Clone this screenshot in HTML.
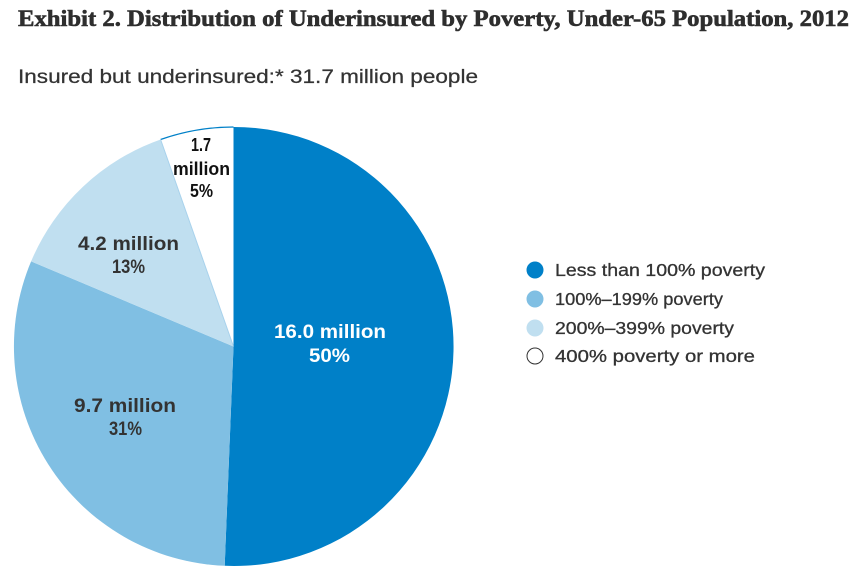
<!DOCTYPE html>
<html><head><meta charset="utf-8"><style>
html,body{margin:0;padding:0;background:#fff;}
svg{display:block;}
</style></head><body>
<svg width="863" height="581" viewBox="0 0 863 581" xmlns="http://www.w3.org/2000/svg">
<rect width="863" height="581" fill="#fff"/>
<text x="18" y="26" font-family="Liberation Serif, serif" font-weight="bold" font-size="23" fill="#2e2e2e" stroke="#2e2e2e" stroke-width="0.6" textLength="831" lengthAdjust="spacingAndGlyphs">Exhibit 2. Distribution of Underinsured by Poverty, Under-65 Population, 2012</text>
<text x="18" y="83" font-family="Liberation Sans, sans-serif" font-size="19" fill="#333" stroke="#333" stroke-width="0.25" textLength="460" lengthAdjust="spacingAndGlyphs">Insured but underinsured:* 31.7 million people</text>

<path d="M233.5,346.5 L233.5,127 A219.5,219.5 0 1 1 224.7,565.8 Z" fill="#0080c8"/>
<path d="M233.5,346.5 L224.7,565.8 A219.5,219.5 0 0 1 31.1,261.4 Z" fill="#80bfe3"/>
<path d="M233.5,346.5 L31.1,261.4 A219.5,219.5 0 0 1 160.6,139.5 Z" fill="#c0dff0"/>
<path d="M233.5,346.5 L160.6,139.5 A219.5,219.5 0 0 1 233.5,127 Z" fill="#fff"/>
<path d="M160.6,139.5 A219.5,219.5 0 0 1 233.5,127" fill="none" stroke="#0080c8" stroke-width="1.2"/>
<line x1="233.5" y1="346.5" x2="160.6" y2="139.5" stroke="#a8d2ec" stroke-width="1"/>

<g font-family="Liberation Sans, sans-serif" font-weight="bold" font-size="19">
<text x="274" y="338" fill="#fff" textLength="112" lengthAdjust="spacingAndGlyphs">16.0 million</text>
<text x="309" y="362" fill="#fff" textLength="41" lengthAdjust="spacingAndGlyphs">50%</text>
<text x="78" y="250" fill="#333" textLength="101" lengthAdjust="spacingAndGlyphs">4.2 million</text>
<text x="112" y="273" fill="#333" textLength="33" lengthAdjust="spacingAndGlyphs">13%</text>
<text x="74" y="412" fill="#333" textLength="102" lengthAdjust="spacingAndGlyphs">9.7 million</text>
<text x="109" y="435" fill="#333" textLength="33" lengthAdjust="spacingAndGlyphs">31%</text>
<text x="191" y="151" fill="#111" font-size="18" textLength="20" lengthAdjust="spacingAndGlyphs">1.7</text>
<text x="173" y="175" fill="#111" font-size="18" textLength="57" lengthAdjust="spacingAndGlyphs">million</text>
<text x="190" y="197" fill="#111" font-size="18" textLength="23" lengthAdjust="spacingAndGlyphs">5%</text>
</g>

<circle cx="535" cy="270" r="8.5" fill="#0080c8"/>
<circle cx="535" cy="299" r="8.5" fill="#80bfe3"/>
<circle cx="535" cy="328" r="8.5" fill="#c0dff0"/>
<circle cx="535" cy="356" r="8" fill="#fff" stroke="#333" stroke-width="1"/>
<g font-family="Liberation Sans, sans-serif" font-size="17.5" fill="#333" stroke="#333" stroke-width="0.3">
<text x="555" y="276" textLength="210" lengthAdjust="spacingAndGlyphs">Less than 100% poverty</text>
<text x="555" y="305" textLength="168" lengthAdjust="spacingAndGlyphs">100%–199% poverty</text>
<text x="555" y="334" textLength="179" lengthAdjust="spacingAndGlyphs">200%–399% poverty</text>
<text x="555" y="362" textLength="200" lengthAdjust="spacingAndGlyphs">400% poverty or more</text>
</g>
</svg>
</body></html>
